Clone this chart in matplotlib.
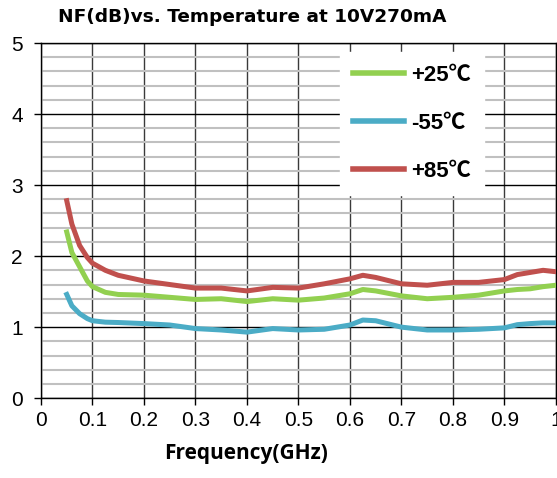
import matplotlib
matplotlib.use("Agg")
import matplotlib.pyplot as plt
from matplotlib.ticker import MultipleLocator

# Frequenz (GHz) und NF (dB) je Temperatur
freq = [0.05, 0.06, 0.075, 0.09, 0.1, 0.125, 0.15, 0.2, 0.25, 0.3, 0.35, 0.4,
        0.45, 0.5, 0.55, 0.6, 0.625, 0.65, 0.7, 0.75, 0.8, 0.85, 0.9, 0.925,
        0.95, 0.975, 1.0]
nf_p25 = [2.34, 2.05, 1.85, 1.65, 1.57, 1.49, 1.46, 1.45, 1.42, 1.39, 1.40, 1.36,
          1.40, 1.38, 1.41, 1.47, 1.53, 1.51, 1.44, 1.40, 1.42, 1.45, 1.51, 1.53,
          1.54, 1.57, 1.59]
nf_m55 = [1.46, 1.30, 1.19, 1.12, 1.09, 1.07, 1.065, 1.05, 1.03, 0.98, 0.96, 0.93,
          0.98, 0.96, 0.97, 1.03, 1.10, 1.09, 1.00, 0.96, 0.96, 0.97, 0.99, 1.035,
          1.05, 1.06, 1.06]
nf_p85 = [2.78, 2.45, 2.15, 1.98, 1.90, 1.80, 1.73, 1.65, 1.60, 1.55, 1.55, 1.51,
          1.56, 1.55, 1.61, 1.68, 1.73, 1.70, 1.61, 1.59, 1.63, 1.63, 1.67, 1.74,
          1.77, 1.80, 1.78]

labels = ["+25\u2103", "-55\u2103", "+85\u2103"]
colors = ["#92D050", "#4BACC6", "#C0504D"]
xtick_labels = ["0", "0.1", "0.2", "0.3", "0.4", "0.5", "0.6", "0.7", "0.8", "0.9", "1"]

plt.rcParams["font.family"] = ["Liberation Sans", "DejaVu Sans"]

fig = plt.figure(figsize=(5.57, 4.78), dpi=100)
ax = fig.add_axes([0.0736, 0.167, 0.9245, 0.743])

for y, lab, c in zip([nf_p25, nf_m55, nf_p85], labels, colors):
    ax.plot(freq, y, color=c, lw=3.6, label=lab, zorder=3)

ax.set_xlim(0, 1)
ax.set_ylim(0, 5)
ax.yaxis.set_major_locator(MultipleLocator(1))
ax.yaxis.set_minor_locator(MultipleLocator(0.2))
ax.set_xticks([i / 10 for i in range(11)])
ax.set_xticklabels(xtick_labels)

ax.grid(which="minor", axis="y", color="#C0C0C0", lw=1.5, zorder=0)
ax.grid(which="major", axis="y", color="black", lw=1.0, zorder=1)
ax.grid(which="major", axis="x", color="#3A3A3A", lw=1.0, zorder=1)
ax.set_axisbelow(True)

ax.tick_params(which="major", direction="out", length=5, width=1, color="black",
               labelsize=15)
ax.tick_params(axis="x", pad=4)
ax.tick_params(axis="y", pad=8)
ax.tick_params(which="minor", length=0)
for s in ax.spines.values():
    s.set_color("black")
    s.set_linewidth(1.0)

fig.text(252 / 557, 1 - 17 / 478, "NF(dB)vs. Temperature at 10V270mA", fontsize=13.3,
         fontweight="bold", family="DejaVu Sans", ha="center", va="center")
fig.text(246 / 557, 1 - 453 / 478, "Frequency(GHz)", fontsize=15, fontweight="bold",
         family="Open Sans", ha="center", va="center")

leg = ax.legend(loc="upper left", bbox_to_anchor=(0.58, 0.975), frameon=True,
                fancybox=False, framealpha=1, edgecolor="white", facecolor="white",
                handlelength=2.3, handletextpad=0.3, labelspacing=1.2, borderpad=0.6,
                borderaxespad=0,
                prop={"family": ["Liberation Sans", "Noto Sans CJK SC"], "weight": "bold",
                      "size": 16})
for line in leg.get_lines():
    line.set_linewidth(4)
leg.set_zorder(5)

fig.savefig("out.png", dpi=100)
